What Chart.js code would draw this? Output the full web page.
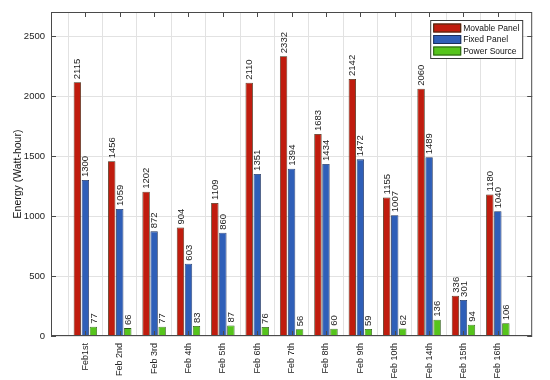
<!DOCTYPE html>
<html>
<head>
<meta charset="utf-8">
<script src="https://cdn.jsdelivr.net/npm/chart.js@4.4.0/dist/chart.umd.min.js"></script>
<style>
  html, body { margin: 0; padding: 0; background: #fff; }
  #wrap { width: 550px; height: 380px; }
</style>
</head>
<body>
<div id="wrap"><canvas id="grafik"></canvas></div>
<script>
var days = ['Feb1st', 'Feb 2nd', 'Feb 3rd', 'Feb 4th', 'Feb 5th', 'Feb 6th', 'Feb 7th',
    'Feb 8th', 'Feb 9th', 'Feb 10th', 'Feb 14th', 'Feb 15th', 'Feb 16th'];
var movable = [2115, 1456, 1202, 904, 1109, 2110, 2332, 1683, 2142, 1155, 2060, 336, 1180];
var fixed = [1300, 1059, 872, 603, 860, 1351, 1394, 1434, 1472, 1007, 1489, 301, 1040];
var power = [77, 66, 77, 83, 87, 76, 56, 60, 59, 62, 136, 94, 106];
var yTicks = [0, 500, 1000, 1500, 2000, 2500];

var fontName = '"Liberation Sans", Arial, sans-serif';

// empty slot on each side, like the matlab axis (0..14)
var pad = function (arr) {
    return [null].concat(arr).concat([null]);
};

// value labels, rotated, above each bar
var labelBar = {
    id: 'labelBar',
    afterDatasetsDraw: function (chart) {
        var ctx = chart.ctx;
        ctx.save();
        ctx.font = '9.5px ' + fontName;
        ctx.fillStyle = '#222';
        ctx.textAlign = 'left';
        ctx.textBaseline = 'middle';
        chart.data.datasets.forEach(function (ds, i) {
            chart.getDatasetMeta(i).data.forEach(function (bar, j) {
                var v = ds.data[j];
                if (v == null) return;
                ctx.save();
                ctx.translate(bar.x + 0.5, bar.y - 3);
                ctx.rotate(-Math.PI / 2);
                ctx.fillText(v, 0, 0);
                ctx.restore();
            });
        });
        ctx.restore();
    }
};

// box round the plot, inside tick marks, and the legend box top right
var kotak = {
    id: 'kotak',
    afterDraw: function (chart) {
        var a = chart.chartArea;
        var ctx = chart.ctx;
        var xs = chart.scales.x, ys = chart.scales.y;
        ctx.save();
        ctx.strokeStyle = '#4a4a4a';
        ctx.lineWidth = 1;
        ctx.strokeRect(a.left + 0.5, a.top + 0.5, a.right - a.left - 1, a.bottom - a.top - 1);
        ctx.beginPath();
        for (var i = 1; i < days.length + 1; i++) {
            var px = Math.round(xs.getPixelForValue(i)) + 0.5;
            ctx.moveTo(px, a.top); ctx.lineTo(px, a.top + 5);
            ctx.moveTo(px, a.bottom); ctx.lineTo(px, a.bottom - 5);
        }
        yTicks.forEach(function (t) {
            var py = Math.round(ys.getPixelForValue(t)) + 0.5;
            ctx.moveTo(a.left, py); ctx.lineTo(a.left + 5, py);
            ctx.moveTo(a.right, py); ctx.lineTo(a.right - 5, py);
        });
        ctx.stroke();

        // legend
        var lx = a.right - 102, ly = a.top + 8, lw = 92, lh = 38;
        ctx.fillStyle = '#fff';
        ctx.fillRect(lx, ly, lw, lh);
        ctx.strokeStyle = '#3a3a3a';
        ctx.strokeRect(lx + 0.5, ly + 0.5, lw, lh);
        ctx.font = '8.5px ' + fontName;
        ctx.textBaseline = 'middle';
        ctx.textAlign = 'left';
        chart.data.datasets.forEach(function (ds, i) {
            var cy = ly + 8 + i * 11.5;
            ctx.fillStyle = ds.backgroundColor;
            ctx.fillRect(lx + 3, cy - 4.5, 28, 9);
            ctx.strokeStyle = ds.borderColor;
            ctx.strokeRect(lx + 3.5, cy - 4, 27, 8);
            ctx.fillStyle = '#111';
            ctx.fillText(ds.label, lx + 33, cy + 0.5);
        });
        ctx.restore();
    }
};

Chart.defaults.font.family = fontName;
Chart.defaults.color = '#333';

var ctx = document.getElementById('grafik').getContext('2d');
var chart = new Chart(ctx, {
    type: 'bar',
    data: {
        labels: pad(days).map(function (d) { return d || ''; }),
        datasets: [{
            label: 'Movable Panel',
            backgroundColor: '#c01c0e',
            borderColor: '#3b2a10',
            borderWidth: 0.8,
            data: pad(movable)
        }, {
            label: 'Fixed Panel',
            backgroundColor: '#2f5fb8',
            borderColor: '#1c2f5a',
            borderWidth: 0.8,
            data: pad(fixed)
        }, {
            label: 'Power Source',
            backgroundColor: '#56c41c',
            borderColor: '#2a5a12',
            borderWidth: 0.8,
            data: pad(power)
        }]
    },
    options: {
        responsive: true,
        maintainAspectRatio: false,
        animation: false,
        layout: { padding: { top: 12, right: 14, left: 0, bottom: 0 } },
        datasets: {
            bar: { categoryPercentage: 0.7, barPercentage: 0.92 }
        },
        plugins: {
            legend: { display: false },
            tooltip: { enabled: false }
        },
        scales: {
            x: {
                offset: false,
                grid: { color: '#e2e2e2', drawTicks: false },
                border: { display: false },
                ticks: {
                    minRotation: 90,
                    maxRotation: 90,
                    autoSkip: false,
                    padding: 7,
                    color: '#222',
                    font: { size: 9 }
                },
                afterFit: function (s) { s.height = 44; }
            },
            y: {
                min: 0,
                max: 2700,
                grid: { color: '#e2e2e2', drawTicks: false },
                border: { display: false },
                afterBuildTicks: function (s) {
                    s.ticks = yTicks.map(function (v) { return { value: v }; });
                },
                ticks: {
                    padding: 6,
                    color: '#222',
                    font: { size: 9.5 },
                    callback: function (v) { return String(v); }
                },
                title: {
                    display: true,
                    text: 'Energy (Watt-hour)',
                    color: '#111',
                    font: { size: 10.5 },
                    padding: { top: 12, bottom: 0 }
                },
                afterFit: function (s) { s.width = 51; }
            }
        }
    },
    plugins: [labelBar, kotak]
});
</script>
</body>
</html>
